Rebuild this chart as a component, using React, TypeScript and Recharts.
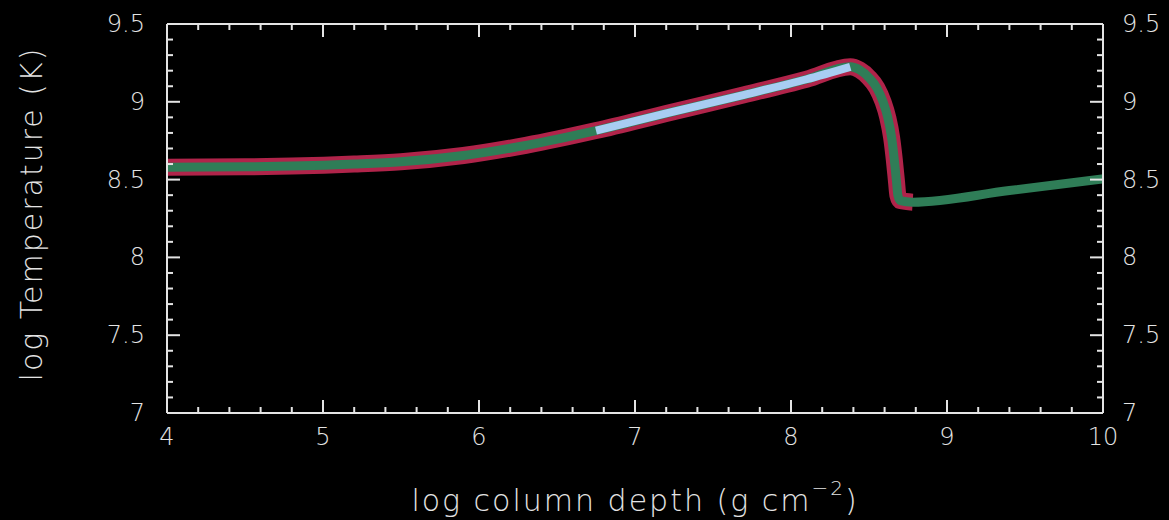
import React from "react";
import { LineChart, Line, XAxis, YAxis } from "recharts";

// log column depth (g cm^-2) vs log temperature (K)
const logDepth = [
  4.0, 4.5, 4.8, 5.2, 5.5, 5.9, 6.3, 6.75, 7.2, 7.7, 8.1, 8.38, 8.44, 8.5,
  8.55, 8.59, 8.62, 8.645, 8.662, 8.676, 8.685, 8.7, 8.78, 9.4, 10.0,
];
const logTemp = [
  8.58, 8.582, 8.587, 8.6, 8.615, 8.655, 8.72, 8.815, 8.925, 9.045, 9.145,
  9.225, 9.205, 9.155, 9.09, 9.0, 8.9, 8.77, 8.63, 8.49, 8.4, 8.365, 8.355,
  8.43, 8.505,
];

// segments of the curve that carry extra colour
const hotStart = 6.75;
const hotEnd = 8.38;
const outlineEnd = 8.78;

const xMajor = [4, 5, 6, 7, 8, 9, 10];
const yMajor = [7, 7.5, 8, 8.5, 9, 9.5];

const curve = logDepth.map((x, i) => ({ x, t: logTemp[i] }));
const outline = curve.filter((p) => p.x <= outlineEnd);
const hot = curve.filter((p) => p.x >= hotStart && p.x <= hotEnd);

const subdivide = (majors: number[], n: number) => {
  const out: number[] = [];
  for (let i = 0; i < majors.length - 1; i++) {
    for (let k = 0; k < n; k++) {
      out.push(+(majors[i] + ((majors[i + 1] - majors[i]) * k) / n).toFixed(4));
    }
  }
  out.push(majors[majors.length - 1]);
  return out;
};

const xTicks = subdivide(xMajor, 5);
const yTicks = subdivide(yMajor, 5);

const FG = "#e4e4e4";
const FONT = "'DejaVu Sans', sans-serif";

const isMajor = (v: number, majors: number[]) =>
  majors.some((m) => Math.abs(m - v) < 1e-6);

const fmt = (v: number) => String(Math.round(v * 10) / 10);

const makeTick =
  (side: "left" | "right" | "top" | "bottom", majors: number[]) =>
  (props: any) => {
    const { x, y, payload } = props;
    const v = payload.value;
    const major = isMajor(v, majors);
    const len = major ? 13 : 6;
    const lineProps = { stroke: FG, strokeWidth: 2 };
    const txt = { fill: FG, fontFamily: FONT, fontSize: 24, fontWeight: 200 };
    if (side === "left") {
      return (
        <g>
          <line x1={x} x2={x + len} y1={y} y2={y} {...lineProps} />
          {major && (
            <text x={x - 22} y={y} textAnchor="end" dominantBaseline="central" {...txt}>
              {fmt(v)}
            </text>
          )}
        </g>
      );
    }
    if (side === "right") {
      return (
        <g>
          <line x1={x} x2={x - len} y1={y} y2={y} {...lineProps} />
          {major && (
            <text x={x + 19} y={y} textAnchor="start" dominantBaseline="central" {...txt}>
              {fmt(v)}
            </text>
          )}
        </g>
      );
    }
    if (side === "bottom") {
      return (
        <g>
          <line x1={x} x2={x} y1={y} y2={y - len} {...lineProps} />
          {major && (
            <text x={x} y={y + 24} textAnchor="middle" dominantBaseline="central" {...txt}>
              {fmt(v)}
            </text>
          )}
        </g>
      );
    }
    return (
      <g>
        <line x1={x} x2={x} y1={y} y2={y + len} {...lineProps} />
      </g>
    );
  };

const axisLine = { stroke: FG, strokeWidth: 2 };

export default function App() {
  const W = 1169;
  const H = 520;
  const title = { fill: FG, fontFamily: FONT, fontSize: 30, fontWeight: 200, letterSpacing: 2 };
  return (
    <div
      style={{
        position: "absolute",
        left: 0,
        top: 0,
        width: W,
        height: H,
        background: "#000",
        overflow: "hidden",
      }}
    >
      <LineChart width={W} height={H} margin={{ top: 0, right: 0, bottom: 0, left: 0 }}>
        <XAxis
          xAxisId="bottom"
          orientation="bottom"
          dataKey="x"
          type="number"
          domain={[4, 10]}
          ticks={xTicks}
          interval={0}
          height={107}
          tickSize={0}
          tickMargin={0}
          tickLine={false}
          axisLine={axisLine}
          tick={makeTick("bottom", xMajor)}
          allowDataOverflow
        />
        <XAxis
          xAxisId="top"
          orientation="top"
          dataKey="x"
          type="number"
          domain={[4, 10]}
          ticks={xTicks}
          interval={0}
          height={24}
          tickSize={0}
          tickMargin={0}
          tickLine={false}
          axisLine={axisLine}
          tick={makeTick("top", xMajor)}
          allowDataOverflow
        />
        <YAxis
          yAxisId="left"
          orientation="left"
          type="number"
          domain={[7, 9.5]}
          ticks={yTicks}
          interval={0}
          width={167}
          tickSize={0}
          tickMargin={0}
          tickLine={false}
          axisLine={axisLine}
          tick={makeTick("left", yMajor)}
          allowDataOverflow
        />
        <YAxis
          yAxisId="right"
          orientation="right"
          type="number"
          domain={[7, 9.5]}
          ticks={yTicks}
          interval={0}
          width={66}
          tickSize={0}
          tickMargin={0}
          tickLine={false}
          axisLine={axisLine}
          tick={makeTick("right", yMajor)}
          allowDataOverflow
        />
        <Line
          xAxisId="bottom"
          yAxisId="left"
          data={outline}
          dataKey="t"
          type="monotone"
          stroke="#b0244a"
          strokeWidth={17}
          dot={false}
          isAnimationActive={false}
        />
        <Line
          xAxisId="bottom"
          yAxisId="left"
          data={curve}
          dataKey="t"
          type="monotone"
          stroke="#2f7d57"
          strokeWidth={9}
          dot={false}
          isAnimationActive={false}
        />
        <Line
          xAxisId="bottom"
          yAxisId="left"
          data={hot}
          dataKey="t"
          type="monotone"
          stroke="#a8cdf2"
          strokeWidth={8}
          dot={false}
          isAnimationActive={false}
        />
      </LineChart>
      <svg
        width={W}
        height={H}
        style={{ position: "absolute", left: 0, top: 0, pointerEvents: "none" }}
      >
        <text x={635} y={511} textAnchor="middle" {...title}>
          log column depth (g cm
          <tspan dy={-16} fontSize={20}>
            −2
          </tspan>
          <tspan dy={16}>)</tspan>
        </text>
        <text
          x={42}
          y={214}
          textAnchor="middle"
          transform="rotate(-90 42 214)"
          {...title}
        >
          log Temperature (K)
        </text>
      </svg>
    </div>
  );
}
